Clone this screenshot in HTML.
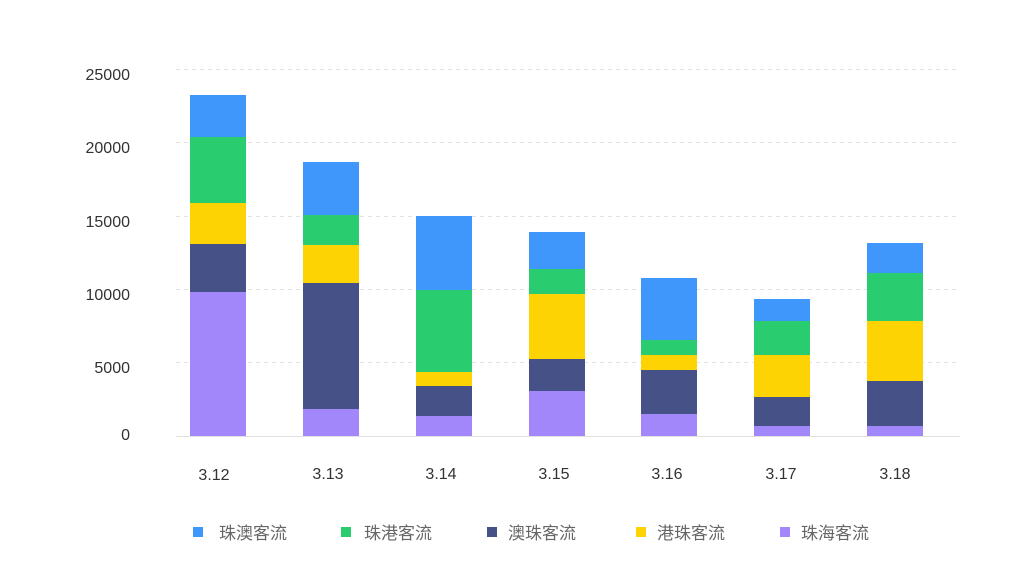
<!DOCTYPE html>
<html><head><meta charset="utf-8"><style>
html,body{margin:0;padding:0;background:#fff;}
svg{display:block;font-family:"Liberation Sans","Noto Sans CJK SC",sans-serif;}
</style></head><body>
<svg width="1024" height="576" viewBox="0 0 1024 576" xmlns="http://www.w3.org/2000/svg">
<g stroke="#e3e3e3" stroke-dasharray="4,4" stroke-width="1">
<line x1="176" x2="960" y1="69.5" y2="69.5"/>
<line x1="176" x2="960" y1="142.5" y2="142.5"/>
<line x1="176" x2="960" y1="216.5" y2="216.5"/>
<line x1="176" x2="960" y1="289.5" y2="289.5"/>
<line x1="176" x2="960" y1="362.5" y2="362.5"/>
</g>
<line x1="176" x2="960" y1="436.5" y2="436.5" stroke="#e0e0e0"/>
<g font-size="16" fill="#333" text-anchor="end">
<text x="130" y="80">25000</text>
<text x="130" y="153">20000</text>
<text x="130" y="227">15000</text>
<text x="130" y="300">10000</text>
<text x="130" y="373">5000</text>
<text x="130" y="440">0</text>
</g>
<g font-size="16" fill="#333" text-anchor="middle">
<text x="214" y="480">3.12</text>
<text x="328" y="479">3.13</text>
<text x="441" y="479">3.14</text>
<text x="554" y="479">3.15</text>
<text x="667" y="479">3.16</text>
<text x="781" y="479">3.17</text>
<text x="895" y="479">3.18</text>
</g>
<g fill="#a287fb">
<rect x="190" y="292" width="56" height="144"/>
<rect x="303" y="409" width="56" height="27"/>
<rect x="416" y="416" width="56" height="20"/>
<rect x="529" y="391" width="56" height="45"/>
<rect x="641" y="414" width="56" height="22"/>
<rect x="754" y="426" width="56" height="10"/>
<rect x="867" y="426" width="56" height="10"/>
</g>
<g fill="#455187">
<rect x="190" y="244" width="56" height="48"/>
<rect x="303" y="283" width="56" height="126"/>
<rect x="416" y="386" width="56" height="30"/>
<rect x="529" y="359" width="56" height="32"/>
<rect x="641" y="370" width="56" height="44"/>
<rect x="754" y="397" width="56" height="29"/>
<rect x="867" y="381" width="56" height="45"/>
</g>
<g fill="#fed304">
<rect x="190" y="203" width="56" height="41"/>
<rect x="303" y="245" width="56" height="38"/>
<rect x="416" y="372" width="56" height="14"/>
<rect x="529" y="294" width="56" height="65"/>
<rect x="641" y="355" width="56" height="15"/>
<rect x="754" y="355" width="56" height="42"/>
<rect x="867" y="321" width="56" height="60"/>
</g>
<g fill="#29cc6e">
<rect x="190" y="137" width="56" height="66"/>
<rect x="303" y="215" width="56" height="30"/>
<rect x="416" y="290" width="56" height="82"/>
<rect x="529" y="269" width="56" height="25"/>
<rect x="641" y="340" width="56" height="15"/>
<rect x="754" y="321" width="56" height="34"/>
<rect x="867" y="273" width="56" height="48"/>
</g>
<g fill="#3f96fb">
<rect x="190" y="95" width="56" height="42"/>
<rect x="303" y="162" width="56" height="53"/>
<rect x="416" y="216" width="56" height="74"/>
<rect x="529" y="232" width="56" height="37"/>
<rect x="641" y="278" width="56" height="62"/>
<rect x="754" y="299" width="56" height="22"/>
<rect x="867" y="243" width="56" height="30"/>
</g>
<g font-size="17" fill="#666">
<rect x="193" y="527" width="10" height="10" fill="#3f96fb"/><text x="219" y="539">珠澳客流</text>
<rect x="341" y="527" width="10" height="10" fill="#29cc6e"/><text x="364" y="539">珠港客流</text>
<rect x="487" y="527" width="10" height="10" fill="#455187"/><text x="508" y="539">澳珠客流</text>
<rect x="636" y="527" width="10" height="10" fill="#fed304"/><text x="657" y="539">港珠客流</text>
<rect x="780" y="527" width="10" height="10" fill="#a287fb"/><text x="801" y="539">珠海客流</text>
</g>
</svg>
</body></html>
